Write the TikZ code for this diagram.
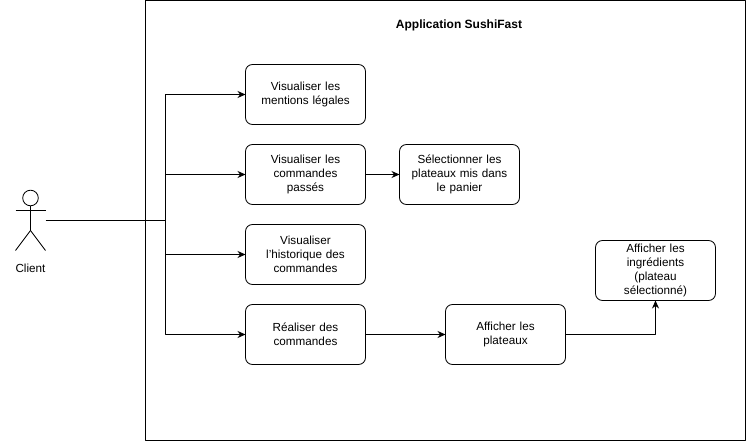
\documentclass[tikz,border=0pt]{standalone}
\usepackage{fontspec}
\setmainfont{Liberation Sans}
\usetikzlibrary{arrows.meta,positioning}
\tikzset{
  usecase/.style={draw,rounded corners=7pt,minimum width=120bp,minimum height=60bp,align=center,inner sep=0pt,line width=.85pt,text width=116bp,outer sep=0pt,font=\fontsize{11.7bp}{14.3bp}\selectfont},
  link/.style={-{Stealth[length=8bp,width=7bp]},line width=.85pt}
}
\begin{document}
\begin{tikzpicture}[x=1bp,y=-1bp,line join=round]
	\useasboundingbox (0,0) rectangle (747,441);
	%Application
	\draw[line width=.85pt] (145.5,.5) rectangle (745.5,440.5);
	\node[font=\fontsize{12bp}{14bp}\selectfont\bfseries] (titre) at (459,25) {Application SushiFast};
	%Client
	\draw[line width=.85pt] (30.5,198) circle (7.8);
	\path (30.5,205.8) coordinate (tete)
	(30.5,230.5) coordinate (bassin)
	(45.5,220.5) coordinate (bras);
	\draw[line width=.85pt] (tete)--(bassin)--(15.5,250.5);
	\draw[line width=.85pt] (bassin)--(45.5,250.5);
	\draw[line width=.85pt] (15.5,210.5)--(45.5,210.5);
	\node[font=\fontsize{11.7bp}{14bp}\selectfont] (client) at (30.5,268.5) {Client};
	%Cas
	\node[usecase] (mentions) at (305.5,94.5) {Visualiser les\\mentions légales};
	\node[usecase] (passes) at (305.5,174.5) {Visualiser les\\commandes\\passés};
	\node[usecase] (panier) at (459.5,174.5) {Sélectionner les\\plateaux mis dans\\le panier};
	\node[usecase] (histo) at (305.5,254.5) {Visualiser\\l'historique des\\commandes};
	\node[usecase] (realiser) at (305.5,334.5) {Réaliser des\\commandes};
	\node[usecase] (plateaux) at (505.5,334.5) {Afficher les\\plateaux};
	\node[usecase] (ingr) at (655.5,270.5) {Afficher les\\ingrédients\\(plateau\\sélectionné)};
	%Liens
	\coordinate (bus) at (165.5,220.5);
	\draw[line width=.85pt] (bras)--(bus);
	\draw[link] (bus)|-(mentions);
	\draw[link] (bus)|-(passes);
	\draw[link] (bus)|-(histo);
	\draw[link] (bus)|-(realiser);
	\draw[link] (passes)--(panier);
	\draw[link] (realiser)--(plateaux);
	\draw[link] (plateaux)-|(ingr);
\end{tikzpicture}
\end{document}
